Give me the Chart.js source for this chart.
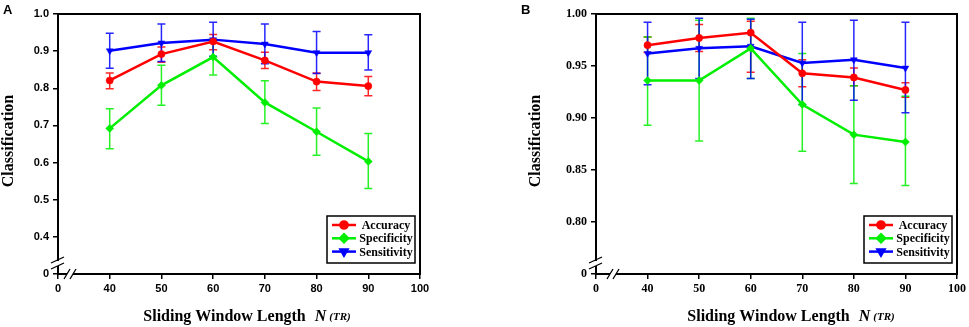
<!DOCTYPE html>
<html>
<head>
<meta charset="utf-8">
<script src="https://cdn.jsdelivr.net/npm/chart.js@4/dist/chart.umd.min.js"></script>
<style>
  body { margin: 0; background: #fff; }
  #wrap { position: relative; width: 969px; height: 327px; }
  canvas { position: absolute; top: 0; }
</style>
</head>
<body>
<div id="wrap">
  <canvas id="chartA" width="480" height="327" style="left:0"></canvas>
  <canvas id="chartB" width="480" height="327" style="left:489px"></canvas>
</div>
<script>
// window lengths (TR)
const windowLengths = [40, 50, 60, 70, 80, 90];
const seriesNames = ['Accuracy', 'Specificity', 'Sensitivity'];

// panel A
const accA = [0.821, 0.892, 0.926, 0.875, 0.818, 0.806];
const accA_hi = [0.841, 0.911, 0.945, 0.897, 0.841, 0.832];
const accA_lo = [0.799, 0.870, 0.904, 0.853, 0.794, 0.780];
const speA = [0.692, 0.808, 0.884, 0.762, 0.683, 0.603];
const speA_hi = [0.745, 0.862, 0.932, 0.820, 0.747, 0.678];
const speA_lo = [0.637, 0.754, 0.836, 0.705, 0.620, 0.530];
const senA = [0.901, 0.922, 0.931, 0.919, 0.896, 0.896];
const senA_hi = [0.948, 0.973, 0.978, 0.973, 0.953, 0.944];
const senA_lo = [0.854, 0.872, 0.886, 0.866, 0.840, 0.849];

// panel B
const accB = [0.970, 0.977, 0.982, 0.943, 0.939, 0.927];
const accB_hi = [0.978, 0.990, 0.993, 0.956, 0.948, 0.934];
const accB_lo = [0.963, 0.964, 0.944, 0.930, 0.931, 0.920];
const speB = [0.936, 0.936, 0.967, 0.913, 0.884, 0.877];
const speB_hi = [0.978, 0.994, 0.996, 0.962, 0.931, 0.921];
const speB_lo = [0.893, 0.878, 0.938, 0.868, 0.837, 0.835];
const senB = [0.962, 0.967, 0.969, 0.953, 0.956, 0.948];
const senB_hi = [0.992, 0.996, 0.995, 0.992, 0.994, 0.992];
const senB_lo = [0.932, 0.938, 0.938, 0.913, 0.917, 0.905];

const colors = ['#ff0000', '#00ee00', '#0000ff'];
const markers = [
  { pointStyle: 'circle', rotation: 0, radius: 3.6 },
  { pointStyle: 'rectRot', rotation: 0, radius: 4 },
  { pointStyle: 'triangle', rotation: 180, radius: 4 }
];

function pts(vals) {
  return windowLengths.map((w, i) => ({ x: w, y: vals[i] }));
}

function makeDatasets(vals, his, los) {
  return vals.map((v, k) => ({
    label: seriesNames[k],
    data: pts(v),
    errHi: his[k],
    errLo: los[k],
    borderColor: colors[k],
    backgroundColor: colors[k],
    borderWidth: 2.5,
    pointStyle: markers[k].pointStyle,
    rotation: markers[k].rotation,
    pointRadius: markers[k].radius,
    pointBorderWidth: 0.5,
    tension: 0
  }));
}

// error bars under the lines
const errBars = {
  id: 'errBars',
  beforeDatasetsDraw(chart) {
    const ctx = chart.ctx, xs = chart.scales.x, ys = chart.scales.y;
    chart.data.datasets.forEach(ds => {
      ctx.save();
      ctx.strokeStyle = ds.borderColor;
      ctx.globalAlpha = 0.85;
      ctx.lineWidth = 1.5;
      ds.data.forEach((p, i) => {
        const px = xs.getPixelForValue(p.x);
        const top = ys.getPixelForValue(ds.errHi[i]);
        const bot = ys.getPixelForValue(ds.errLo[i]);
        ctx.beginPath();
        ctx.moveTo(px, top); ctx.lineTo(px, bot);
        ctx.moveTo(px - 4, top); ctx.lineTo(px + 4, top);
        ctx.moveTo(px - 4, bot); ctx.lineTo(px + 4, bot);
        ctx.stroke();
      });
      ctx.restore();
    });
  }
};

// frame, axis breaks, titles, legend box, panel letter
const decor = {
  id: 'decor',
  afterDraw(chart, args, o) {
    const ctx = chart.ctx, a = chart.chartArea;
    ctx.save();
    ctx.strokeStyle = '#000';
    ctx.lineWidth = 2;
    ctx.strokeRect(a.left, a.top, a.right - a.left, a.bottom - a.top);

    // y axis break
    const yb = a.bottom - 10;
    ctx.fillStyle = '#fff';
    ctx.fillRect(a.left - 2, yb - 3, 4, 5);
    ctx.lineWidth = 1.3;
    ctx.beginPath();
    ctx.moveTo(a.left - 7, yb - 1); ctx.lineTo(a.left + 6, yb - 7);
    ctx.moveTo(a.left - 7, yb + 5); ctx.lineTo(a.left + 6, yb - 1);
    ctx.stroke();
    // x axis break
    const xb = a.left + o.xBreak;
    ctx.fillRect(xb - 3, a.bottom - 2, 6, 4);
    ctx.beginPath();
    ctx.moveTo(xb - 6, a.bottom + 5); ctx.lineTo(xb, a.bottom - 5);
    ctx.moveTo(xb, a.bottom + 5); ctx.lineTo(xb + 6, a.bottom - 5);
    ctx.stroke();

    // panel letter
    ctx.fillStyle = '#000';
    ctx.font = 'bold 13px "Liberation Sans", Arial, sans-serif';
    ctx.textAlign = 'left';
    ctx.textBaseline = 'top';
    ctx.fillText(o.letter, o.letterX, 4);

    // y title
    ctx.font = 'bold 16px "Liberation Serif", "Times New Roman", serif';
    ctx.textAlign = 'center';
    ctx.textBaseline = 'middle';
    ctx.save();
    ctx.translate(o.yTitleX, 141);
    ctx.rotate(-Math.PI / 2);
    ctx.fillText('Classification', 0, 0);
    ctx.restore();

    // x title with italic N (TR)
    const f1 = 'bold 16px "Liberation Serif", "Times New Roman", serif';
    const f2 = 'italic bold 16px "Liberation Serif", "Times New Roman", serif';
    const f3 = 'italic bold 11px "Liberation Serif", "Times New Roman", serif';
    const t1 = 'Sliding Window Length', t2 = 'N', t3 = '(TR)';
    ctx.font = f1; const w1 = ctx.measureText(t1).width;
    ctx.font = f2; const w2 = ctx.measureText(t2).width;
    ctx.font = f3; const w3 = ctx.measureText(t3).width;
    const gap = 9, gap2 = 3;
    let tx = o.xTitleX - (w1 + gap + w2 + gap2 + w3) / 2;
    ctx.textAlign = 'left';
    ctx.textBaseline = 'alphabetic';
    ctx.font = f1; ctx.fillText(t1, tx, 321);
    tx += w1 + gap;
    ctx.font = f2; ctx.fillText(t2, tx, 321);
    tx += w2 + gap2;
    ctx.font = f3; ctx.fillText(t3, tx, 320);

    // legend box
    const bw = 88, bh = 47;
    const bx = a.right - 5 - bw, by = a.bottom - 11 - bh;
    ctx.fillStyle = '#fff';
    ctx.fillRect(bx, by, bw, bh);
    ctx.lineWidth = 1.5;
    ctx.strokeStyle = '#000';
    ctx.strokeRect(bx, by, bw, bh);
    ctx.font = 'bold 12px "Liberation Serif", "Times New Roman", serif';
    ctx.textBaseline = 'middle';
    chart.data.datasets.forEach((ds, k) => {
      const ry = by + 9 + k * 13.3;
      ctx.strokeStyle = ds.borderColor;
      ctx.lineWidth = 2.5;
      ctx.beginPath();
      ctx.moveTo(bx + 5, ry); ctx.lineTo(bx + 29, ry);
      ctx.stroke();
      ctx.fillStyle = ds.borderColor;
      Chart.helpers.drawPoint(ctx, {
        pointStyle: markers[k].pointStyle,
        rotation: markers[k].rotation,
        radius: markers[k].radius,
        borderWidth: 0.5
      }, bx + 17, ry);
      ctx.fillStyle = '#000';
      ctx.textAlign = 'center';
      ctx.fillText(ds.label, bx + 59, ry + 1);
    });
    ctx.restore();
  }
};

function makeChart(id, datasets, cfg) {
  return new Chart(document.getElementById(id), {
    type: 'line',
    data: { datasets: datasets },
    plugins: [errBars, decor],
    options: {
      responsive: false,
      animation: false,
      layout: { padding: { top: 14, right: 480 - cfg.right, left: 0, bottom: 0 } },
      plugins: {
        legend: { display: false },
        tooltip: { enabled: false },
        decor: cfg.decor
      },
      scales: {
        x: {
          type: 'linear',
          min: 30,
          max: 100,
          afterFit: s => { s.height = 53; },
          border: { display: true, color: '#000', width: 2 },
          grid: { drawOnChartArea: false, color: '#000', tickLength: 5, lineWidth: 1.5 },
          ticks: {
            stepSize: 10,
            padding: 3,
            color: '#000',
            font: cfg.tickFont,
            callback: v => v === 30 ? '0' : String(v)
          }
        },
        y: {
          min: cfg.yMin,
          max: 1.0,
          afterFit: s => { s.width = cfg.left; },
          border: { display: true, color: '#000', width: 2 },
          grid: { drawOnChartArea: false, color: '#000', tickLength: 5, lineWidth: 1.5 },
          ticks: {
            stepSize: cfg.yStep,
            padding: 4,
            color: '#000',
            font: cfg.tickFont,
            callback: v => Math.abs(v - cfg.yMin) < 1e-6 ? '0' : Number(v).toFixed(cfg.dec)
          }
        }
      }
    }
  });
}

makeChart('chartA', makeDatasets([accA, speA, senA], [accA_hi, speA_hi, senA_hi], [accA_lo, speA_lo, senA_lo]), {
  left: 58, right: 420, yMin: 0.3, yStep: 0.1, dec: 1,
  tickFont: { family: '"Liberation Sans", Arial, sans-serif', size: 11, weight: 'bold' },
  decor: { letter: 'A', letterX: 3, yTitleX: 9, xTitleX: 247, xBreak: 12 }
});

makeChart('chartB', makeDatasets([accB, speB, senB], [accB_hi, speB_hi, senB_hi], [accB_lo, speB_lo, senB_lo]), {
  left: 107, right: 469, yMin: 0.75, yStep: 0.05, dec: 2,
  tickFont: { family: '"Liberation Serif", "Times New Roman", serif', size: 12, weight: 'bold' },
  decor: { letter: 'B', letterX: 32, yTitleX: 47, xTitleX: 302, xBreak: 17 }
});
</script>
</body>
</html>
